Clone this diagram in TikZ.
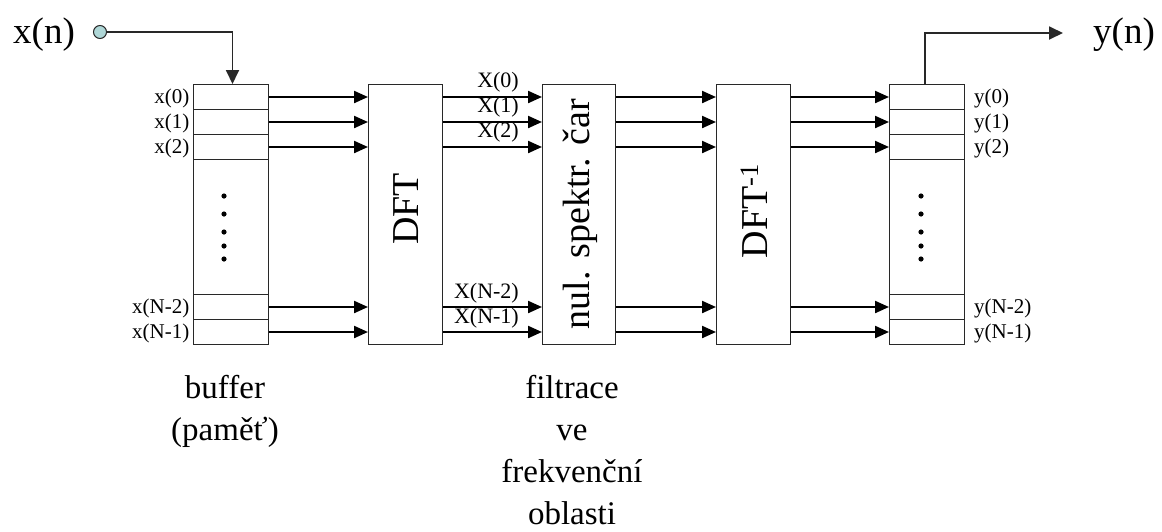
\documentclass[tikz,border=0pt]{standalone}
\usepackage{fontspec}
\setmainfont{Liberation Serif}
\usetikzlibrary{arrows.meta}
\definecolor{linegray}{RGB}{40,40,40}
\definecolor{srcfill}{RGB}{175,215,215}
\tikzset{
  cell/.style={draw=linegray, line width=1pt, inner sep=0pt, minimum width=75pt, anchor=north west},
  blk/.style={draw=linegray, line width=1pt, inner sep=0pt, minimum width=74pt, minimum height=260pt, anchor=north west},
  arr/.style={line width=2.2pt, -{Triangle[length=14pt,width=12pt]}},
  sig/.style={line width=1.8pt, linegray},
  small/.style={font=\fontsize{21}{22}\selectfont},
  spec/.style={font=\fontsize{22}{22}\selectfont},
  big/.style={font=\fontsize{37}{40}\selectfont},
  blklabel/.style={font=\fontsize{38}{40}\selectfont, rotate=90},
  captext/.style={font=\fontsize{33}{42}\selectfont, align=center, anchor=north},
  dotst/.style={fill=black}
}
\begin{document}
\begin{tikzpicture}[x=1pt,y=-1pt]
\useasboundingbox (0,0) rectangle (1162,531);
% input buffer cells
\node[cell, minimum height=25pt] (i0) at (193,84) {};
\node[cell, minimum height=25pt] (i1) at (193,109) {};
\node[cell, minimum height=25pt] (i2) at (193,134) {};
\node[cell, minimum height=135pt] (im) at (193,159) {};
\node[cell, minimum height=25pt] (i3) at (193,294) {};
\node[cell, minimum height=25pt] (i4) at (193,319) {};
% output buffer cells
\node[cell, minimum height=25pt] (o0) at (889,84) {};
\node[cell, minimum height=25pt] (o1) at (889,109) {};
\node[cell, minimum height=25pt] (o2) at (889,134) {};
\node[cell, minimum height=135pt] (om) at (889,159) {};
\node[cell, minimum height=25pt] (o3) at (889,294) {};
\node[cell, minimum height=25pt] (o4) at (889,319) {};
% blocks
\node[blk] (dft) at (368,84) {};
\node[blk, minimum width=73pt] (filt) at (542,84) {};
\node[blk] (idft) at (716,84) {};
\node[blklabel] at (406,209) {DFT};
\node[blklabel] at (580,214) {nul. spektr. čar};
\node[blklabel] at (754,211) {DFT\textsuperscript{-1}};
% dots
\foreach \y in {196,214,232,246,259}{
  \fill[dotst] (224,\y) circle (2.6pt);
  \fill[dotst] (921,\y) circle (2.6pt);
}
% arrows
\foreach \c in {0,1,2,3,4}{
  \draw[arr] (i\c.east) -- (i\c.east -| dft.west);
  \draw[arr] (i\c.east -| dft.east) -- (i\c.east -| filt.west);
  \draw[arr] (i\c.east -| filt.east) -- (i\c.east -| idft.west);
  \draw[arr] (i\c.east -| idft.east) -- (o\c.west);
}
% labels input
\node[small, anchor=east, inner sep=0pt] at ([yshift=-1pt]i0.west) {x(0)\,};
\node[small, anchor=east, inner sep=0pt] at ([yshift=-1pt]i1.west) {x(1)\,};
\node[small, anchor=east, inner sep=0pt] at ([yshift=-1pt]i2.west) {x(2)\,};
\node[small, anchor=east, inner sep=0pt] at ([yshift=-1pt]i3.west) {x(N-2)\,};
\node[small, anchor=east, inner sep=0pt] at ([yshift=-1pt]i4.west) {x(N-1)\,};
% spectral labels
\node[spec, anchor=base east, inner sep=0pt] at (519,87) {X(0)};
\node[spec, anchor=base east, inner sep=0pt] at (519,112) {X(1)};
\node[spec, anchor=base east, inner sep=0pt] at (519,137) {X(2)};
\node[spec, anchor=base east, inner sep=0pt] at (519,298) {X(N-2)};
\node[spec, anchor=base east, inner sep=0pt] at (519,323) {X(N-1)};
% output labels
\node[small, anchor=west, inner sep=0pt] at ([xshift=9pt,yshift=-1pt]o0.east) {y(0)};
\node[small, anchor=west, inner sep=0pt] at ([xshift=9pt,yshift=-1pt]o1.east) {y(1)};
\node[small, anchor=west, inner sep=0pt] at ([xshift=9pt,yshift=-1pt]o2.east) {y(2)};
\node[small, anchor=west, inner sep=0pt] at ([xshift=9pt,yshift=-1pt]o3.east) {y(N-2)};
\node[small, anchor=west, inner sep=0pt] at ([xshift=9pt,yshift=-1pt]o4.east) {y(N-1)};
% input / output signals
\node[big, anchor=base, inner sep=0pt] (xn) at (44,43) {x(n)};
\node[big, anchor=base, inner sep=0pt] (yn) at (1124,43) {y(n)};
\node[circle, draw=linegray, fill=srcfill, line width=1pt, minimum size=13pt, inner sep=0pt] (src) at (100,32) {};
\coordinate (yend) at (1063,33);
\draw[sig, -{Triangle[length=14pt,width=13pt]}] (src.east) -| ([xshift=1.5pt]i0.north);
\draw[sig, -{Triangle[length=14pt,width=13pt]}] ([xshift=-2pt]o0.north) |- (yend);
% captions
\node[captext] (bcap) at (225,372) {buffer\\(paměť)};
\node[captext] (fcap) at (572,372) {filtrace\\ve\\frekvenční\\oblasti};
\end{tikzpicture}
\end{document}
